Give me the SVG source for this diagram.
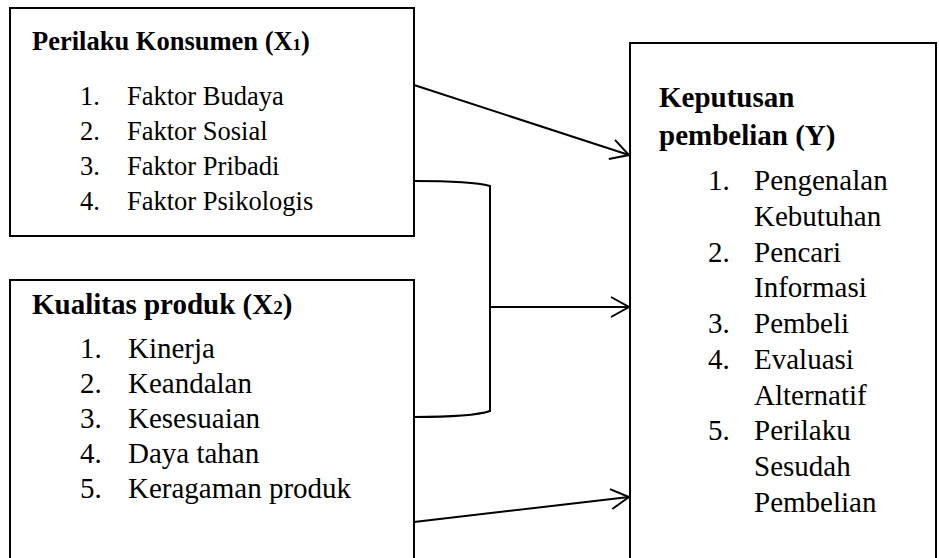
<svg xmlns="http://www.w3.org/2000/svg" width="939" height="558" viewBox="0 0 939 558">
<style>
.box{fill:#fff;stroke:#000;stroke-width:2}
.t{font-family:"Liberation Serif","Times New Roman",serif;fill:#000}
.b{font-weight:bold}
.s1{font-size:26.5px}
.s2{font-size:29px}
.c{fill:none;stroke:#000;stroke-width:2}
</style>
<defs>
<marker id="arr" markerUnits="userSpaceOnUse" markerWidth="24" markerHeight="24" refX="20" refY="11" orient="auto" overflow="visible">
<polyline points="2,1 20,11 2,21" fill="none" stroke="#000" stroke-width="2"/>
</marker>
</defs>
<rect width="939" height="558" fill="#fff"/>
<g id="x1">
<rect class="box" x="10" y="8" width="404" height="228"/>
<text class="t b s1" x="32" y="50">Perilaku Konsumen (X<tspan font-size="17">1</tspan>)</text>
<g class="t s1">
<text x="80" y="105">1.</text><text x="127" y="105">Faktor Budaya</text>
<text x="80" y="140">2.</text><text x="127" y="140">Faktor Sosial</text>
<text x="80" y="175">3.</text><text x="127" y="175">Faktor Pribadi</text>
<text x="80" y="210">4.</text><text x="127" y="210">Faktor Psikologis</text>
</g>
</g>
<g id="x2">
<rect class="box" x="10" y="280" width="404" height="290"/>
<text class="t b s2" x="32" y="314">Kualitas produk (X<tspan font-size="19">2</tspan>)</text>
<g class="t s2">
<text x="80" y="358">1.</text><text x="128" y="358">Kinerja</text>
<text x="80" y="393">2.</text><text x="128" y="393">Keandalan</text>
<text x="80" y="428">3.</text><text x="128" y="428">Kesesuaian</text>
<text x="80" y="463">4.</text><text x="128" y="463">Daya tahan</text>
<text x="80" y="498">5.</text><text x="128" y="498">Keragaman produk</text>
</g>
</g>
<g id="y">
<rect class="box" x="630" y="43" width="306" height="530"/>
<text class="t b s2" x="659" y="107">Keputusan</text>
<text class="t b s2" x="659" y="145">pembelian (Y)</text>
<g class="t s2">
<text x="708" y="190">1.</text><text x="754" y="190">Pengenalan</text>
<text x="754" y="226">Kebutuhan</text>
<text x="708" y="262">2.</text><text x="754" y="262">Pencari</text>
<text x="754" y="297">Informasi</text>
<text x="708" y="333">3.</text><text x="754" y="333">Pembeli</text>
<text x="708" y="369">4.</text><text x="754" y="369">Evaluasi</text>
<text x="754" y="405">Alternatif</text>
<text x="708" y="440">5.</text><text x="754" y="440">Perilaku</text>
<text x="754" y="476">Sesudah</text>
<text x="754" y="512">Pembelian</text>
</g>
</g>
<g id="connectors">
<line class="c" x1="414" y1="85" x2="629" y2="155" marker-end="url(#arr)"/>
<path class="c" d="M414,181 Q472,181 490,186 L490,411 Q472,417 414,417"/>
<line class="c" x1="490" y1="307" x2="629" y2="307" marker-end="url(#arr)"/>
<line class="c" x1="414" y1="522" x2="629" y2="497" marker-end="url(#arr)"/>
</g>
</svg>
